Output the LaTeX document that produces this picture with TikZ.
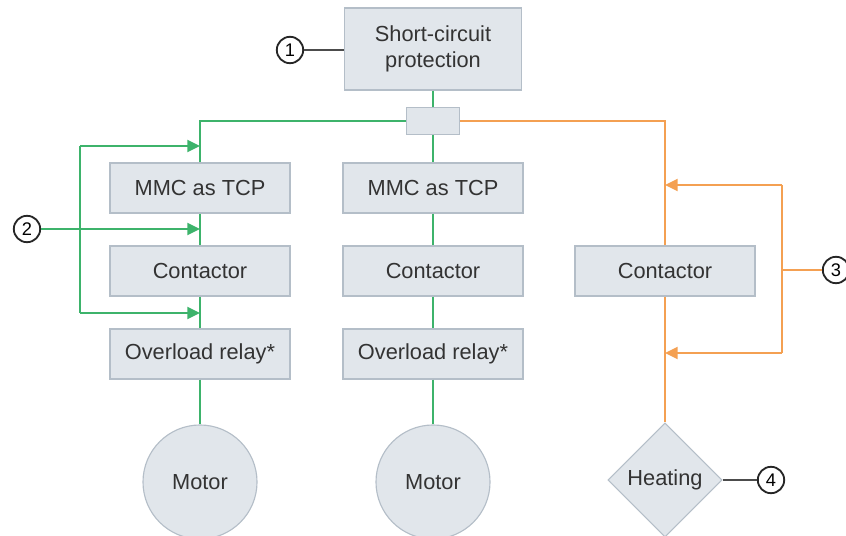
\documentclass[tikz,border=0pt]{standalone}
\usepackage{fontspec}
\setmainfont{Liberation Sans}
\usepackage{tikz}
\usetikzlibrary{shapes.geometric, positioning, calc, arrows.meta}
\definecolor{boxfill}{HTML}{E1E6EB}
\definecolor{boxline}{HTML}{B4BEC8}
\definecolor{feedgreen}{HTML}{3DB36B}
\definecolor{feedorange}{HTML}{F4A052}
\definecolor{txtgray}{HTML}{333333}

\begin{document}
\begin{tikzpicture}[
		x=0.025cm, y=-0.025cm,
		% Component boxes
		box/.style={
			rectangle,
			draw=boxline,
			fill=boxfill,
			line width=0.8pt,
			text=txtgray,
			font=\fontsize{15.5}{18}\selectfont,
			minimum width=4.5cm,
			minimum height=1.25cm,
			align=center
		},
		% Load symbols
		load/.style={
			box,
			minimum width=2.85cm,
			minimum height=2.85cm
		},
		% Numbered callouts
		callout/.style={
			circle,
			draw=black!85,
			fill=white,
			line width=1.3pt,
			inner sep=0pt,
			minimum size=0.66cm,
			font=\fontsize{13}{14}\selectfont
		},
		% Wiring
		greenwire/.style={feedgreen, line width=1pt},
		orangewire/.style={feedorange, line width=1pt},
		greenarrow/.style={feedgreen, line width=1.6pt, -{Triangle[length=9pt, width=8.5pt]}},
		orangearrow/.style={feedorange, line width=1.6pt, -{Triangle[length=9pt, width=8.5pt]}},
		leader/.style={black!70, line width=1.6pt}
		]
		
		\useasboundingbox (0,0) rectangle (846,536);
		
		% --- Supply and distribution ---
		\node[box, minimum width=4.43cm, minimum height=2.05cm] (sc) at (433,49) {Short-circuit\\protection};
		\node[box, minimum width=1.33cm, minimum height=0.68cm] (junc) at (433,121) {};
		
		% --- Feeder 1 ---
		\node[box] (mmcA) at (200,188) {MMC as TCP};
		\node[box] (conA) at (200,271) {Contactor};
		\node[box] (olA) at (200,354) {Overload relay*};
		\node[load, circle] (motA) at (200,482) {Motor};
		
		% --- Feeder 2 ---
		\node[box] (mmcB) at (433,188) {MMC as TCP};
		\node[box] (conB) at (433,271) {Contactor};
		\node[box] (olB) at (433,354) {Overload relay*};
		\node[load, circle] (motB) at (433,482) {Motor};
		
		% --- Feeder 3 ---
		\node[box] (conC) at (665,271) {Contactor};
		\node[load, diamond, minimum width=2.85cm, minimum height=2.85cm] (heat) at (665,480) {Heating};
		
		% --- Wiring ---
		\draw[greenwire] (sc) -- (junc);
		\draw[greenwire] (junc.west) -| (mmcA.north);
		\draw[greenwire] (junc) -- (mmcB);
		\draw[orangewire] (junc.east) -| (conC.north);
		\draw[greenwire] (mmcA) -- (conA) -- (olA) -- (motA);
		\draw[greenwire] (mmcB) -- (conB) -- (olB) -- (motB);
		\draw[orangewire] (conC) -- (heat);
		
		% --- Callouts ---
		\node[callout] (c1) at (290,50) {1};
		\node[callout] (c2) at (27,229) {2};
		\node[callout] (c3) at (836,270) {3};
		\node[callout] (c4) at (771,480) {4};
		
		\draw[leader] (c1) -- (sc.west |- c1);
		\draw[leader] (heat.east) -- (c4);
		
		% green arrows into feeder 1
		\coordinate (gA) at (200,146);
		\coordinate (gB) at (200,229);
		\coordinate (gC) at (200,313);
		\draw[greenarrow] (c2) -- (gB);
		\draw[greenarrow] (gA -| 80,0) -- (gA);
		\draw[greenarrow] (gC -| 80,0) -- (gC);
		\draw[feedgreen, line width=1.6pt] (gA -| 80,0) -- (gC -| 80,0);
		
		% orange arrows into feeder 3
		\coordinate (oA) at (665,185);
		\coordinate (oB) at (665,353);
		\draw[orangearrow] (oA -| 782,0) -- (oA);
		\draw[orangearrow] (oB -| 782,0) -- (oB);
		\draw[feedorange, line width=1.6pt] (oA -| 782,0) -- (oB -| 782,0);
		\draw[feedorange, line width=1.6pt] (c3 -| 782,0) -- (c3);
		
	\end{tikzpicture}
\end{document}
